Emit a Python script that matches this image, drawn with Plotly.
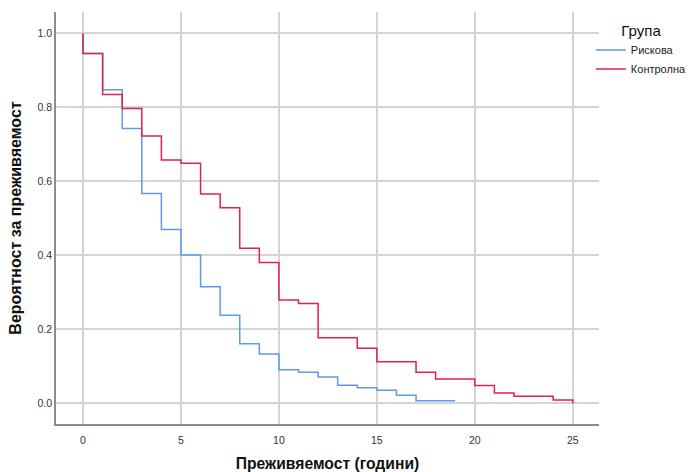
import plotly.graph_objects as go

# Data (Kaplan-Meier step curves)
risk_name = "Рискова"
risk_t = [0, 0, 1, 2, 3, 4, 5, 6, 7, 8, 9, 10, 11, 12, 13, 14, 15, 16, 17, 19]
risk_s = [1.0, 0.946, 0.848, 0.743, 0.567, 0.470, 0.401, 0.315, 0.238, 0.161,
          0.133, 0.091, 0.084, 0.071, 0.049, 0.042, 0.035, 0.022, 0.007, 0.007]

ctrl_name = "Контролна"
ctrl_t = [0, 0, 1, 2, 3, 4, 5, 6, 7, 8, 9, 10, 11, 12, 14, 15, 17, 18, 20, 21, 22, 24, 25]
ctrl_s = [1.0, 0.946, 0.835, 0.797, 0.723, 0.658, 0.649, 0.566, 0.529, 0.419, 0.381,
          0.279, 0.270, 0.177, 0.149, 0.112, 0.084, 0.066, 0.048, 0.028, 0.019, 0.009, 0.0]

x_ticks = [0, 5, 10, 15, 20, 25]
y_ticks = [0.0, 0.2, 0.4, 0.6, 0.8, 1.0]

x_title = "Преживяемост (години)"
y_title = "Вероятност за преживяемост"
legend_title = "Група"

fig = go.Figure()
fig.add_trace(go.Scatter(x=risk_t, y=risk_s, mode="lines", line_shape="hv",
                         name=risk_name, line=dict(color="#5B9BE8", width=1.5)))
fig.add_trace(go.Scatter(x=ctrl_t, y=ctrl_s, mode="lines", line_shape="hv",
                         name=ctrl_name, line=dict(color="#E0204F", width=1.5)))

fig.update_layout(
    width=688, height=472,
    margin=dict(l=56, r=89, t=12, b=48, autoexpand=False),
    paper_bgcolor="white", plot_bgcolor="white",
    font=dict(family="Liberation Sans, Arial, sans-serif", color="#222"),
    showlegend=True,
    legend=dict(
        x=0.985, y=0.99, xanchor="left", yanchor="top",
        title=dict(text=legend_title, font=dict(size=15, color="#111"), side="top center"),
        font=dict(size=11, color="#222"),
        itemwidth=30, tracegroupgap=0,
        bgcolor="rgba(0,0,0,0)",
    ),
)
fig.update_xaxes(
    range=[-1.38, 26.34], tickvals=x_ticks, ticktext=[str(v) for v in x_ticks],
    showgrid=True, gridcolor="#D4D4D4", gridwidth=1.5,
    showline=True, linecolor="#8C8C8C", linewidth=1.5,
    zeroline=False, ticks="outside", ticklen=6, tickcolor="rgba(0,0,0,0)",
    tickfont=dict(size=10.5, color="#333"),
    title=dict(text="<b>" + x_title + "</b>", font=dict(size=15.7, color="#111"), standoff=20),
)
fig.update_yaxes(
    range=[-0.056, 1.058], tickvals=y_ticks, ticktext=[f"{v:.1f}" for v in y_ticks],
    showgrid=True, gridcolor="#D4D4D4", gridwidth=1.5,
    showline=True, linecolor="#8C8C8C", linewidth=1.5,
    zeroline=False, ticks="", tickfont=dict(size=10.5, color="#333"),
    title=dict(text="<b>" + y_title + "</b>", font=dict(size=16, color="#111"), standoff=12),
)

fig.write_html("out.html")
